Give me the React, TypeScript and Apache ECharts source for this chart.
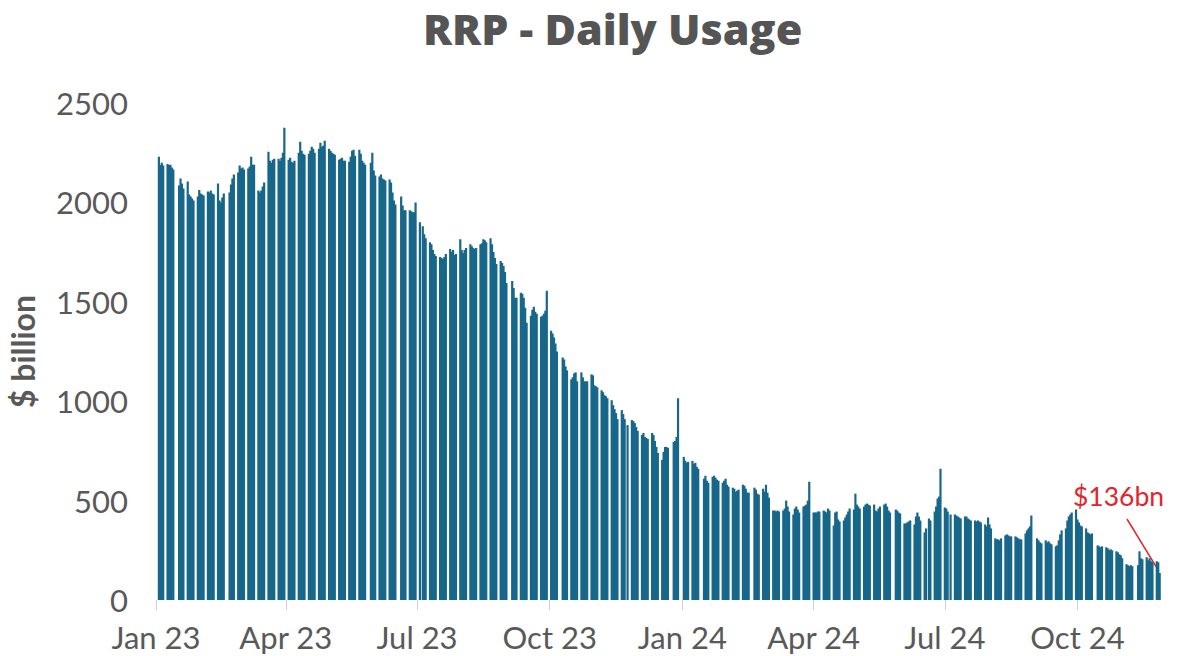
import React, { useEffect, useRef } from "react";
import * as echarts from "echarts";

// Market holidays on which no operation is reported
const HOLIDAYS = [
  "2023-01-02", "2023-01-16", "2023-02-20", "2023-05-29", "2023-06-19", "2023-07-04",
  "2023-09-04", "2023-10-09", "2023-11-23", "2023-12-25",
  "2024-01-01", "2024-01-15", "2024-02-19", "2024-05-27", "2024-06-19", "2024-07-04",
  "2024-09-02", "2024-10-14", "2024-11-11", "2024-11-28",
];
const FIRST_DAY = "2023-01-03";
const LAST_DAY = "2024-11-27";

// Daily ON RRP usage, $ billion, one value per business day of each month
const jan23 = [2229, 2188, 2199, 2185, 2193, 2188, 2190, 2175, 2165, 2085, 2120, 2095, 2070, 2105, 2040, 2030, 2020, 2010, 2030, 2062];
const feb23 = [2045, 2040, 2035, 2055, 2050, 2060, 2045, 2040, 2095, 2010, 2000, 2025, 2045, 2050, 2090, 2120, 2140, 2150, 2185];
const mar23 = [2170, 2175, 2165, 2170, 2180, 2230, 2190, 2190, 2060, 2050, 2060, 2080, 2100, 2255, 2210, 2200, 2215, 2220, 2220, 2210, 2225, 2250, 2375];
const apr23 = [2215, 2225, 2205, 2200, 2210, 2250, 2305, 2260, 2245, 2240, 2245, 2260, 2280, 2270, 2250, 2270, 2300, 2280, 2285, 2310];
const may23 = [2270, 2260, 2250, 2245, 2240, 2215, 2220, 2225, 2210, 2210, 2205, 2230, 2260, 2265, 2235, 2265, 2245, 2210, 2200, 2190, 2200, 2250];
const jun23 = [2160, 2135, 2130, 2140, 2120, 2115, 2110, 2115, 2100, 2050, 2010, 1990, 2030, 1985, 1960, 1960, 1960, 1955, 1950, 1950, 2000];
const jul23 = [1900, 1880, 1840, 1820, 1800, 1790, 1760, 1740, 1730, 1725, 1720, 1715, 1725, 1740, 1765, 1750, 1760, 1735, 1740, 1815];
const aug23 = [1760, 1745, 1760, 1770, 1790, 1780, 1770, 1765, 1770, 1790, 1795, 1815, 1810, 1800, 1820, 1790, 1750, 1720, 1690, 1705, 1695, 1680, 1650];
const sep23 = [1595, 1605, 1570, 1520, 1520, 1545, 1540, 1520, 1470, 1395, 1430, 1460, 1475, 1450, 1440, 1425, 1430, 1440, 1455, 1555];
const oct23 = [1355, 1340, 1320, 1290, 1250, 1220, 1210, 1175, 1155, 1110, 1120, 1140, 1145, 1100, 1145, 1120, 1100, 1100, 1100, 1135, 1130];
const nov23 = [1080, 1075, 1070, 1055, 1045, 1030, 1025, 1015, 1005, 980, 960, 940, 910, 955, 935, 910, 880, 905, 900, 890, 870];
const dec23 = [850, 830, 840, 820, 815, 810, 840, 830, 800, 770, 740, 705, 745, 770, 770, 765, 795, 800, 820, 1015];
const jan24 = [720, 700, 690, 695, 700, 685, 690, 670, 660, 610, 625, 600, 590, 620, 625, 615, 605, 600, 590, 600, 610];
const feb24 = [580, 570, 565, 560, 545, 550, 555, 580, 575, 560, 540, 540, 565, 555, 535, 530, 560, 545, 580, 540];
const mar24 = [515, 450, 450, 445, 450, 445, 450, 460, 500, 470, 445, 430, 460, 470, 455, 440, 470, 475, 480, 500, 595];
const apr24 = [440, 440, 440, 445, 445, 450, 445, 440, 460, 450, 375, 440, 445, 405, 395, 400, 415, 430, 445, 460, 455, 535];
const may24 = [480, 470, 460, 470, 480, 485, 480, 475, 480, 450, 445, 460, 470, 480, 485, 470, 450, 440, 455, 450, 440, 435];
const jun24 = [385, 385, 390, 395, 400, 380, 420, 440, 420, 400, 340, 360, 410, 400, 445, 470, 510, 520, 660];
const jul24 = [465, 460, 445, 430, 430, 425, 420, 415, 410, 420, 420, 410, 405, 400, 400, 395, 400, 395, 390, 380, 370, 415];
const aug24 = [380, 360, 310, 305, 305, 300, 310, 325, 330, 325, 320, 320, 320, 315, 310, 305, 305, 335, 350, 360, 370, 425];
const sep24 = [310, 300, 290, 285, 300, 290, 295, 285, 280, 270, 275, 300, 330, 350, 360, 400, 420, 430, 440, 455];
const oct24 = [405, 390, 375, 370, 360, 340, 335, 330, 335, 275, 270, 265, 270, 265, 260, 250, 255, 250, 245, 240, 230, 225];
const nov24 = [210, 180, 175, 170, 175, 170, 175, 245, 210, 205, 215, 200, 210, 195, 190, 195, 190, 136];

const monthlyUsage = [
  jan23, feb23, mar23, apr23, may23, jun23, jul23, aug23, sep23, oct23, nov23, dec23,
  jan24, feb24, mar24, apr24, may24, jun24, jul24, aug24, sep24, oct24, nov24,
];

const QUARTER_TICKS = ["2023-01", "2023-04", "2023-07", "2023-10", "2024-01", "2024-04", "2024-07", "2024-10"];
const MONTH_NAMES = ["Jan", "Feb", "Mar", "Apr", "May", "Jun", "Jul", "Aug", "Sep", "Oct", "Nov", "Dec"];
const LATEST_LABEL = "$136bn";

const DAY = 86400000;
const EPOCH = Date.UTC(2023, 0, 1);
const pad = (n: number) => String(n).padStart(2, "0");

// Day index (days since 1 Jan 2023) of each business day in a month
function businessDays(year: number, month: number): number[] {
  const out: number[] = [];
  const lastDate = new Date(Date.UTC(year, month + 1, 0)).getUTCDate();
  for (let d = 1; d <= lastDate; d++) {
    const t = Date.UTC(year, month, d);
    const wd = new Date(t).getUTCDay();
    if (wd === 0 || wd === 6) continue;
    const key = `${year}-${pad(month + 1)}-${pad(d)}`;
    if (HOLIDAYS.includes(key)) continue;
    if (key < FIRST_DAY || key > LAST_DAY) continue;
    out.push(Math.round((t - EPOCH) / DAY));
  }
  return out;
}

function buildSeries(): [number, number][] {
  const data: [number, number][] = [];
  monthlyUsage.forEach((values, i) => {
    const year = 2023 + Math.floor(i / 12);
    const month = i % 12;
    const days = businessDays(year, month);
    const n = Math.min(days.length, values.length);
    for (let k = 0; k < n; k++) data.push([days[k], values[k]]);
  });
  return data;
}

const dayIndex = (y: number, m: number, d: number) => Math.round((Date.UTC(y, m, d) - EPOCH) / DAY);

const RED = "#e5232b";
const TEXT = "#595959";
const BAR = "#17678a";
const FONT = "Lato, 'Open Sans', sans-serif";

export default function App() {
  const ref = useRef<HTMLDivElement>(null);

  useEffect(() => {
    if (!ref.current) return;
    const chart = echarts.init(ref.current, undefined, { renderer: "svg" });
    const data = buildSeries();
    const tickValues = QUARTER_TICKS.map((s) => {
      const [y, m] = s.split("-").map(Number);
      return dayIndex(y, m - 1, 1);
    });

    chart.setOption({
      animation: false,
      backgroundColor: "#ffffff",
      textStyle: { fontFamily: FONT },
      title: {
        text: "RRP - Daily Usage",
        left: 418,
        top: 2,
        textStyle: {
          fontFamily: "'Open Sans', sans-serif",
          fontSize: 43,
          fontWeight: 800,
          color: "#555555",
        },
      },
      grid: {
        left: 156,
        right: 23,
        top: 103,
        bottom: 56,
        containLabel: false,
        outerBoundsMode: "none",
      },
      xAxis: {
        type: "value",
        min: 0,
        max: dayIndex(2024, 10, 30),
        axisLine: { show: false },
        splitLine: { show: false },
        axisTick: {
          show: true,
          customValues: tickValues,
          length: 10,
          lineStyle: { color: "#d0d0d0", width: 1 },
        },
        axisLabel: {
          customValues: tickValues,
          margin: 21,
          fontSize: 31,
          color: TEXT,
          fontFamily: FONT,
          formatter: (v: number) => {
            const d = new Date(EPOCH + v * DAY);
            return `${MONTH_NAMES[d.getUTCMonth()]} ${String(d.getUTCFullYear()).slice(2)}`;
          },
        },
      },
      yAxis: {
        type: "value",
        min: 0,
        max: 2500,
        interval: 500,
        name: "$ billion",
        nameLocation: "middle",
        nameGap: 118,
        nameTextStyle: { fontSize: 32, fontWeight: "bold", color: TEXT, fontFamily: FONT },
        axisLine: { show: false },
        axisTick: { show: false },
        splitLine: { show: false },
        axisLabel: {
          fontSize: 31,
          color: TEXT,
          margin: 28,
          fontFamily: FONT,
          formatter: (v: number) => String(v),
        },
      },
      series: [
        {
          type: "bar",
          data,
          barWidth: 2.2,
          itemStyle: { color: BAR },
          emphasis: { disabled: true },
        },
      ],
    });

    // Callout pointing at the latest observation
    const last = data[data.length - 1];
    const tip = chart.convertToPixel({ seriesIndex: 0 }, last) as number[];
    chart.setOption({
      graphic: [
        {
          type: "text",
          left: 1073,
          top: 482,
          style: { text: LATEST_LABEL, fill: RED, fontSize: 26.5, fontFamily: FONT },
        },
        {
          type: "line",
          shape: { x1: 1127, y1: 519, x2: tip[0] - 1, y2: tip[1] - 2 },
          style: { stroke: RED, lineWidth: 1.5 },
        },
      ],
    });

    return () => chart.dispose();
  }, []);

  return (
    <div
      ref={ref}
      style={{ position: "absolute", left: 0, top: 0, width: 1187, height: 656, background: "#fff" }}
    />
  );
}
